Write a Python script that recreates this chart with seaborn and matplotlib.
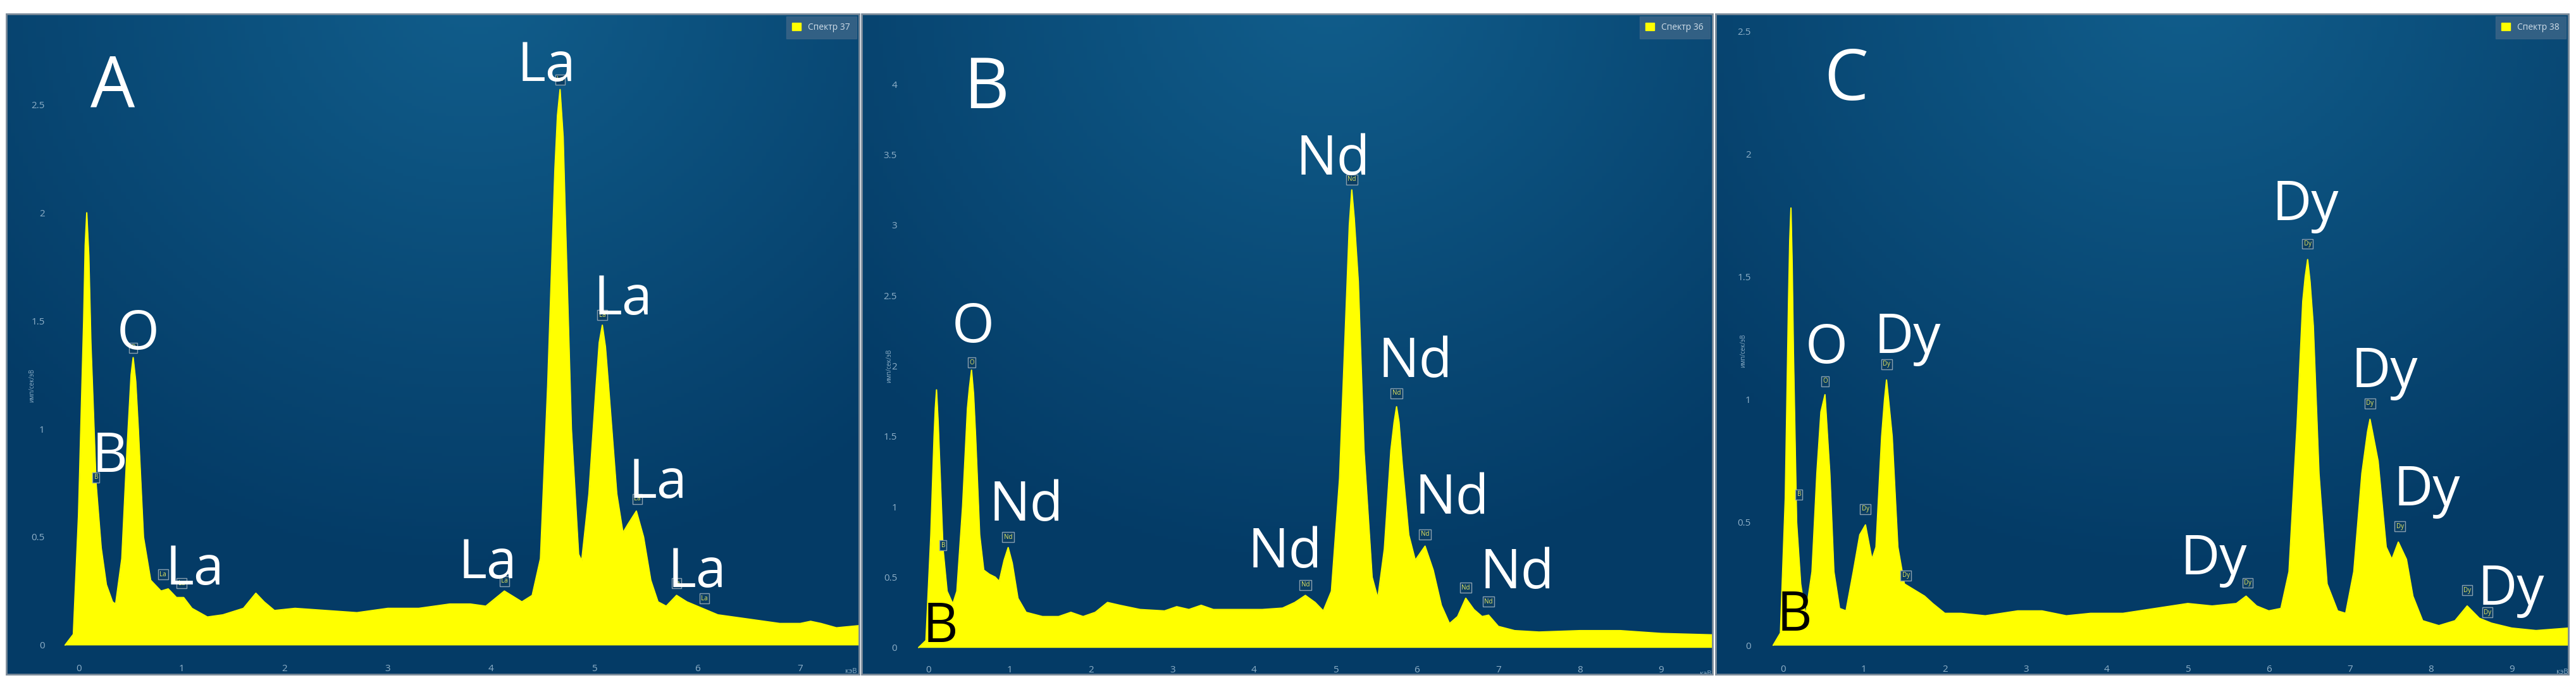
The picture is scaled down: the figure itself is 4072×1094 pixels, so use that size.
import numpy as np
import matplotlib
matplotlib.use("Agg")
import matplotlib.pyplot as plt
import matplotlib.patches as mpatches
import seaborn as sns

# ---------------- data ----------------
energy_A = [-0.13,-0.05,0.0,0.05,0.065,0.08,0.10,0.12,0.17,0.22,0.27,0.33,0.36,0.42,0.47,0.51,0.53,0.555,0.58,0.63,0.7,0.8,0.87,0.95,1.02,1.1,1.25,1.4,1.6,1.72,1.8,1.9,2.1,2.4,2.7,3.0,3.3,3.6,3.8,3.95,4.13,4.3,4.4,4.48,4.55,4.62,4.645,4.67,4.70,4.72,4.78,4.85,4.88,4.95,5.02,5.05,5.08,5.11,5.14,5.22,5.28,5.33,5.41,5.48,5.55,5.62,5.7,5.8,5.9,6.0,6.2,6.5,6.8,7.0,7.1,7.2,7.35,7.57]
counts_A = [0,0.05,0.6,1.5,1.85,2.0,1.8,1.4,0.75,0.45,0.28,0.2,0.19,0.4,0.9,1.25,1.33,1.22,1.0,0.5,0.3,0.25,0.26,0.22,0.22,0.17,0.13,0.14,0.17,0.24,0.2,0.16,0.17,0.16,0.15,0.17,0.17,0.19,0.19,0.18,0.25,0.2,0.23,0.4,1.2,2.2,2.45,2.57,2.35,2.0,1.0,0.42,0.39,0.7,1.2,1.4,1.48,1.38,1.2,0.7,0.52,0.56,0.62,0.5,0.3,0.2,0.18,0.23,0.2,0.18,0.14,0.12,0.1,0.1,0.11,0.1,0.08,0.09]

energy_B = [-0.12,-0.03,0.03,0.07,0.085,0.1,0.12,0.14,0.18,0.23,0.3,0.35,0.42,0.48,0.505,0.53,0.555,0.58,0.63,0.68,0.75,0.82,0.87,0.93,0.98,1.03,1.1,1.2,1.4,1.6,1.75,1.9,2.05,2.2,2.35,2.6,2.9,3.05,3.2,3.35,3.5,3.8,4.1,4.35,4.5,4.63,4.75,4.85,4.95,5.05,5.13,5.17,5.2,5.23,5.28,5.35,5.45,5.52,5.6,5.68,5.72,5.75,5.78,5.82,5.9,5.98,6.1,6.2,6.3,6.4,6.5,6.6,6.7,6.8,6.88,7.0,7.2,7.5,8.0,8.5,9.0,9.63]
counts_B = [0,0.05,0.8,1.5,1.7,1.83,1.6,1.3,0.7,0.4,0.31,0.4,1.0,1.7,1.85,1.97,1.8,1.5,0.8,0.55,0.52,0.5,0.47,0.62,0.71,0.6,0.35,0.25,0.22,0.22,0.25,0.22,0.25,0.32,0.3,0.27,0.26,0.29,0.27,0.3,0.27,0.27,0.27,0.28,0.32,0.37,0.32,0.26,0.4,1.2,2.4,3.0,3.25,3.05,2.6,1.4,0.5,0.35,0.7,1.4,1.6,1.71,1.6,1.3,0.8,0.62,0.72,0.55,0.3,0.17,0.22,0.35,0.27,0.22,0.23,0.15,0.12,0.11,0.12,0.12,0.1,0.09]

energy_C = [-0.12,-0.03,0.03,0.07,0.085,0.1,0.115,0.13,0.17,0.22,0.28,0.36,0.42,0.47,0.52,0.58,0.63,0.7,0.78,0.87,0.95,1.02,1.1,1.15,1.22,1.255,1.28,1.305,1.35,1.42,1.5,1.6,1.75,1.85,2.0,2.2,2.5,2.9,3.2,3.5,3.8,4.2,4.6,5.0,5.3,5.6,5.72,5.85,6.0,6.15,6.25,6.35,6.42,6.45,6.48,6.51,6.55,6.62,6.72,6.85,6.95,7.05,7.15,7.22,7.25,7.28,7.35,7.45,7.52,7.6,7.7,7.78,7.9,8.1,8.3,8.45,8.6,8.75,9.0,9.3,9.7]
counts_C = [0,0.05,0.6,1.4,1.65,1.78,1.55,1.2,0.5,0.25,0.12,0.3,0.7,0.95,1.02,0.7,0.3,0.15,0.14,0.3,0.45,0.49,0.35,0.4,0.85,1.0,1.08,1.0,0.85,0.4,0.25,0.23,0.2,0.17,0.13,0.13,0.12,0.14,0.14,0.12,0.13,0.13,0.15,0.17,0.16,0.17,0.2,0.16,0.14,0.15,0.3,0.9,1.4,1.5,1.57,1.48,1.3,0.7,0.25,0.14,0.13,0.3,0.7,0.87,0.92,0.87,0.75,0.4,0.35,0.42,0.35,0.2,0.1,0.08,0.1,0.16,0.11,0.09,0.07,0.06,0.07]

spectrum_names = ["Спектр 37", "Спектр 36", "Спектр 38"]
panel_letters = ["A", "B", "C"]

labels_A = [(0.30,0.80,"B","white"),(0.58,1.37,"O","white"),(1.13,0.28,"La","white"),(3.97,0.31,"La","white"),
            (4.54,2.61,"La","white"),(5.28,1.53,"La","white"),(5.62,0.68,"La","white"),(6.0,0.27,"La","white")]
labels_B = [(0.55,2.17,"O","white"),(1.2,0.9,"Nd","white"),(4.38,0.57,"Nd","white"),(4.97,3.36,"Nd","white"),
            (5.98,1.92,"Nd","white"),(6.43,0.95,"Nd","white"),(7.23,0.42,"Nd","white"),(0.15,0.04,"B","black")]
labels_C = [(0.54,1.15,"O","white"),(1.54,1.19,"Dy","white"),(5.32,0.29,"Dy","white"),(6.45,1.73,"Dy","white"),
            (7.43,1.05,"Dy","white"),(7.95,0.57,"Dy","white"),(8.99,0.165,"Dy","white"),(0.14,0.06,"B","black")]
marks_A = [(0.17,0.76,"B"),(0.53,1.36,"O"),(0.82,0.31,"La"),(1.0,0.27,"La"),(4.13,0.28,"La"),(4.67,2.6,"La"),
           (5.08,1.51,"La"),(5.42,0.66,"La"),(5.8,0.27,"La"),(6.07,0.2,"La")]
marks_B = [(0.18,0.7,"B"),(0.53,2.0,"O"),(0.98,0.76,"Nd"),(4.63,0.42,"Nd"),(5.2,3.3,"Nd"),(5.75,1.78,"Nd"),
           (6.1,0.78,"Nd"),(6.6,0.4,"Nd"),(6.88,0.3,"Nd")]
marks_C = [(0.2,0.6,"B"),(0.52,1.06,"O"),(1.02,0.54,"Dy"),(1.28,1.13,"Dy"),(1.52,0.27,"Dy"),(5.74,0.24,"Dy"),
           (6.48,1.62,"Dy"),(7.25,0.97,"Dy"),(7.62,0.47,"Dy"),(8.45,0.21,"Dy"),(8.7,0.12,"Dy")]

panels = [
    dict(e=energy_A, c=counts_A, lab=labels_A, mk=marks_A, rect=[10, 1358], xlim=(-0.70, 7.57), ylim=(-0.135, 2.92),
         yspine=-0.23, ymaj=0.5, ymin=0.05, letter=(0.33, 2.49)),
    dict(e=energy_B, c=counts_B, lab=labels_B, mk=marks_B, rect=[1362, 2707], xlim=(-0.82, 9.63), ylim=(-0.19, 4.5),
         yspine=-0.26, ymaj=0.5, ymin=0.1, letter=(0.71, 3.83)),
    dict(e=energy_C, c=counts_C, lab=labels_C, mk=marks_C, rect=[2712, 4060], xlim=(-0.83, 9.70), ylim=(-0.118, 2.57),
         yspine=-0.27, ymaj=0.5, ymin=0.05, letter=(0.78, 2.22)),
]

sns.set_style("dark")
plt.rcParams['font.family'] = ['Open Sans', 'DejaVu Sans']

W, H = 4072, 1094
fig = plt.figure(figsize=(W/100, H/100), dpi=100)
fig.patch.set_facecolor("white")

gy, gx = np.mgrid[0:1:200j, 0:1:200j]
r = np.sqrt(((gx-0.55)/1.0)**2 + ((gy-1.05)/1.2)**2)
bg = np.clip(1 - r/0.75, 0, 1)
c_edge = np.array([0x04, 0x3b, 0x66])/255
c_mid = np.array([0x11, 0x5e, 0x8c])/255
img = c_edge[None, None, :] + (c_mid-c_edge)[None, None, :]*bg[..., None]
img = img[::-1]

tick_col = "#8fb0c8"
for i, p in enumerate(panels):
    l, rgt = p["rect"]
    ax = fig.add_axes([l/W, 28/H, (rgt-l)/W, 1044/H])
    ax.imshow(img, extent=[0, 1, 0, 1], transform=ax.transAxes, aspect="auto", zorder=0)
    ax.set_xlim(*p["xlim"]); ax.set_ylim(*p["ylim"])
    ax.fill_between(p["e"], 0, p["c"], color="#ffff00", linewidth=0, zorder=2)
    sns.lineplot(x=p["e"], y=p["c"], ax=ax, color="#ffff00", linewidth=1.5, zorder=3, sort=False)
    ax.grid(False)
    for s in ["top", "right", "left", "bottom"]:
        ax.spines[s].set_visible(False)
    ax.spines["left"].set_position(("data", p["yspine"]))
    ax.spines["bottom"].set_position(("data", -0.015))
    ax.set_xticks(np.arange(0, int(p["xlim"][1])+1, 1))
    ax.set_xticks(np.arange(0, p["xlim"][1], 0.1), minor=True)
    ax.set_yticks(np.arange(0, p["ylim"][1], p["ymaj"]))
    ax.set_yticks(np.arange(0, p["ylim"][1], p["ymin"]), minor=True)
    ax.yaxis.set_major_formatter(matplotlib.ticker.FuncFormatter(lambda v, _: f"{v:g}"))
    ax.tick_params(axis="both", which="major", colors=tick_col, labelsize=11, length=8, width=2, direction="out")
    ax.tick_params(axis="both", which="minor", colors=tick_col, length=4, width=2, direction="out")
    ax.tick_params(axis="x", pad=10)
    ax.add_patch(mpatches.Rectangle((0, 0), 1, 1, transform=ax.transAxes, fill=False,
                                    edgecolor="#7a8a99", linewidth=2, zorder=10, clip_on=False))
    ax.text(p["yspine"] - 0.22, 1.2 if i != 1 else 2.0, "имп/сек/эВ", rotation=90, color=tick_col,
            fontsize=7, ha="center", va="center")
    ax.text(p["xlim"][1]-0.08, -0.035*(p["ylim"][1]-p["ylim"][0]), "кэВ", color=tick_col, fontsize=8,
            ha="center", va="top")
    for x, y, t, col in p["lab"]:
        ax.text(x, y, t, color=col, fontsize=62, ha="center", va="baseline", zorder=6)
    for x, y, t in p["mk"]:
        ax.text(x, y, t, color="#e8e860", fontsize=7, ha="center", va="bottom", zorder=5,
                bbox=dict(boxstyle="square,pad=0.25", fc="#0a3d63", ec="#8aa0b0", lw=1))
    lx, ly = p["letter"]
    ax.text(lx, ly, panel_letters[i], color="white", fontsize=80, ha="center", va="baseline", zorder=6)
    leg = ax.legend(handles=[mpatches.Patch(color="#ffff00", label=spectrum_names[i])],
                    loc="upper right", fontsize=10, frameon=True, handlelength=1.0, handleheight=1.0,
                    borderaxespad=0.6)
    leg.get_frame().set_facecolor("#3d6688"); leg.get_frame().set_edgecolor("#3d6688")
    leg.get_frame().set_boxstyle("square")
    for t in leg.get_texts():
        t.set_color("#d0dde8")

fig.savefig("out.png", dpi=100, facecolor="white")
